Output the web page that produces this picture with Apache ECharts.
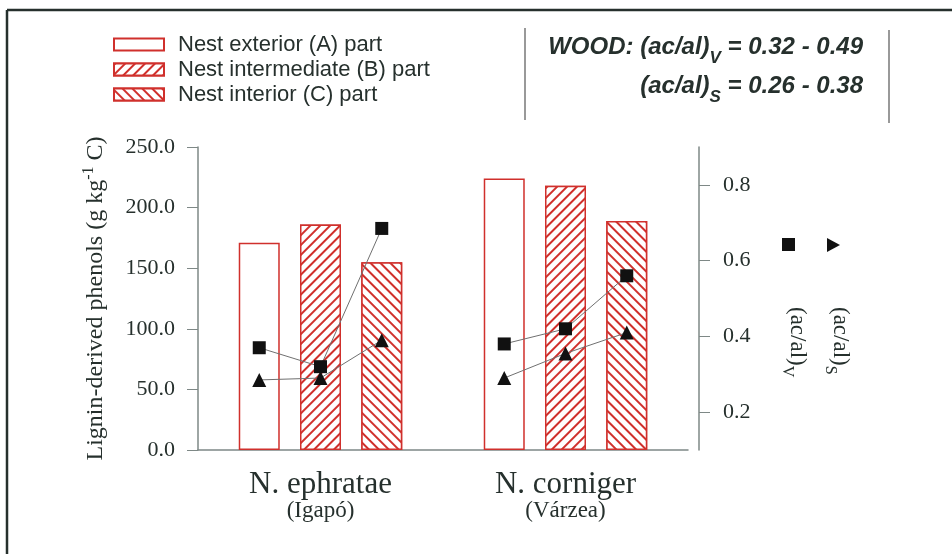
<!DOCTYPE html>
<html>
<head>
<meta charset="utf-8">
<script src="https://cdn.jsdelivr.net/npm/echarts@6/dist/echarts.min.js"></script>
<style>
html,body{margin:0;padding:0;background:#fff;}
#chart{width:952px;height:554px;}
</style>
</head>
<body>
<div id="chart"></div>
<script>
// ---- data ----
const categories = ['N. ephratae', 'N. corniger'];
const habitats = ['(Igapó)', '(Várzea)'];
const barNames = ['Nest exterior (A) part', 'Nest intermediate (B) part', 'Nest interior (C) part'];
const exteriorA = [171, 224];
const intermediateB = [186, 218];
const interiorC = [155, 189];
const acalV_ephratae = [0.37, 0.32, 0.685];
const acalV_corniger = [0.38, 0.42, 0.56];
const acalS_ephratae = [0.285, 0.29, 0.39];
const acalS_corniger = [0.29, 0.355, 0.41];
const rightTicks = [0.2, 0.4, 0.6, 0.8];

// ---- styling ----
const RED = '#d0302c';
const INK = '#26302d';
const AXIS = '#7e8886';
const SERIF = '"Liberation Serif", "DejaVu Serif", serif';
const SANS = '"Liberation Sans", Arial, sans-serif';

const chart = echarts.init(document.getElementById('chart'), null, {renderer: 'canvas'});

function hatch(rot) {
  return {symbol: 'rect', symbolSize: 1, dashArrayX: [1, 0], dashArrayY: [1.3, 4.6], rotation: rot, color: RED, backgroundColor: '#fff'};
}

// value-axis position of the bar centre: 4 slots per category, bars in slots 1..3
function slotX(ci, bi) { return ci * 4 + 2 + (bi - 1); }
function pts(ci, arr) { return arr.map((v, bi) => [slotX(ci, bi), v]); }

function markerLine(name, ci, arr, symbol, size) {
  return {
    name: name, type: 'line', xAxisIndex: 1, yAxisIndex: 1, z: 5,
    data: pts(ci, arr), symbol: symbol, symbolSize: size, showSymbol: true,
    lineStyle: {color: '#707070', width: 1},
    itemStyle: {color: '#111'},
    emphasis: {disabled: true}, animation: false
  };
}

const barBase = {type: 'bar', barWidth: 41, barGap: '49.4%', animation: false, emphasis: {disabled: true}};

function subRich(family, size, subSize, bold) {
  const extra = bold ? {fontWeight: 'bold', fontStyle: 'italic'} : {};
  return {
    m: Object.assign({fontFamily: family, fontSize: size, fill: INK, verticalAlign: 'top', lineHeight: size + 1}, extra),
    s: Object.assign({fontFamily: family, fontSize: subSize, fill: INK, verticalAlign: 'top', padding: [Math.round(size * 0.58), 0, 0, 0]}, extra)
  };
}

const option = {
  backgroundColor: '#fff',
  animation: false,
  grid: {left: 198, right: 264, top: 147, bottom: 104, containLabel: false},
  legend: {
    data: barNames, orient: 'vertical', left: 113, top: 32, padding: 0,
    itemWidth: 50, itemHeight: 12, itemGap: 0, icon: 'rect',
    selectedMode: false,
    textStyle: {fontFamily: SANS, fontSize: 22, color: INK, lineHeight: 25, padding: [0, 0, 0, 9]}
  },
  xAxis: [
    {
      type: 'category', data: categories, gridIndex: 0,
      axisLine: {lineStyle: {color: AXIS, width: 1.5}},
      axisTick: {show: false},
      axisLabel: {
        interval: 0, margin: 20,
        formatter: (v, i) => '{a|' + v + '}\n{b|' + habitats[i] + '}',
        rich: {
          a: {fontFamily: SERIF, fontSize: 31, lineHeight: 30, color: INK},
          b: {fontFamily: SERIF, fontSize: 23, lineHeight: 21, color: INK}
        }
      }
    },
    {type: 'value', min: 0, max: 8, show: false, gridIndex: 0}
  ],
  yAxis: [
    {
      type: 'value', min: 0, max: 250, interval: 50, position: 'left',
      axisLine: {show: true, lineStyle: {color: AXIS, width: 1.5}},
      axisTick: {show: true, inside: false, length: 11, lineStyle: {color: AXIS}},
      splitLine: {show: false},
      axisLabel: {margin: 23, fontFamily: SERIF, fontSize: 22, color: INK, formatter: v => v.toFixed(1)},
      name: '{a|Lignin-derived phenols (g kg}{s|-1}{a| C)}',
      nameLocation: 'middle', nameGap: 90,
      nameTextStyle: {
        rich: {
          a: {fontFamily: SERIF, fontSize: 24, color: INK, verticalAlign: 'bottom', lineHeight: 25},
          s: {fontFamily: SERIF, fontSize: 16, color: INK, verticalAlign: 'bottom', padding: [0, 0, 11, 0]}
        }
      }
    },
    {
      type: 'value', min: 0.1, max: 0.9, position: 'right', offset: 11,
      axisLine: {show: true, lineStyle: {color: AXIS, width: 1.5}},
      axisTick: {show: true, length: 11, customValues: rightTicks, lineStyle: {color: AXIS}},
      splitLine: {show: false},
      axisLabel: {margin: 24, customValues: rightTicks, fontFamily: SERIF, fontSize: 22, color: INK, formatter: v => v.toFixed(1)}
    }
  ],
  series: [
    Object.assign({}, barBase, {name: barNames[0], data: exteriorA,
      itemStyle: {color: '#fff', borderColor: RED, borderWidth: 1.5}}),
    Object.assign({}, barBase, {name: barNames[1], data: intermediateB,
      itemStyle: {color: '#fff', borderColor: RED, borderWidth: 1.5, decal: hatch(-Math.PI / 4)}}),
    Object.assign({}, barBase, {name: barNames[2], data: interiorC,
      itemStyle: {color: '#fff', borderColor: RED, borderWidth: 1.5, decal: hatch(Math.PI / 4)}}),
    markerLine('(ac/al)V ephratae', 0, acalV_ephratae, 'rect', 13),
    markerLine('(ac/al)V corniger', 1, acalV_corniger, 'rect', 13),
    markerLine('(ac/al)S ephratae', 0, acalS_ephratae, 'triangle', 14),
    markerLine('(ac/al)S corniger', 1, acalS_corniger, 'triangle', 14)
  ],
  graphic: [
    // frame
    {type: 'line', shape: {x1: 7, y1: 10, x2: 952, y2: 10}, style: {stroke: INK, lineWidth: 2.5}, silent: true},
    {type: 'line', shape: {x1: 7, y1: 10, x2: 7, y2: 554}, style: {stroke: INK, lineWidth: 2.5}, silent: true},
    // wood box separators
    {type: 'line', shape: {x1: 525, y1: 28, x2: 525, y2: 120}, style: {stroke: '#777', lineWidth: 1.5}, silent: true},
    {type: 'line', shape: {x1: 889, y1: 30, x2: 889, y2: 123}, style: {stroke: '#777', lineWidth: 1.5}, silent: true},
    // wood text
    {type: 'text', x: 863, y: 51, silent: true, style: {
      text: '{m|WOOD: (ac/al)}{s|V}{m| = 0.32 - 0.49}', align: 'right', verticalAlign: 'middle',
      rich: subRich(SANS, 24, 17, true)}},
    {type: 'text', x: 863, y: 90, silent: true, style: {
      text: '{m|(ac/al)}{s|S}{m| = 0.26 - 0.38}', align: 'right', verticalAlign: 'middle',
      rich: subRich(SANS, 24, 17, true)}},
    // right-side legend markers
    {type: 'rect', shape: {x: 782, y: 238, width: 13, height: 13}, style: {fill: '#111'}, silent: true},
    {type: 'polygon', shape: {points: [[827, 238], [840, 245], [827, 252]]}, style: {fill: '#111'}, silent: true},
    // right-side legend labels (rotated clockwise)
    {type: 'text', x: 794, y: 307, rotation: -Math.PI / 2, silent: true, style: {
      text: '{m|(ac/al)}{s|V}', align: 'left', verticalAlign: 'middle',
      rich: subRich(SERIF, 23, 16, false)}},
    {type: 'text', x: 837, y: 307, rotation: -Math.PI / 2, silent: true, style: {
      text: '{m|(ac/al)}{s|S}', align: 'left', verticalAlign: 'middle',
      rich: subRich(SERIF, 23, 16, false)}}
  ]
};
chart.setOption(option);
</script>
</body>
</html>
